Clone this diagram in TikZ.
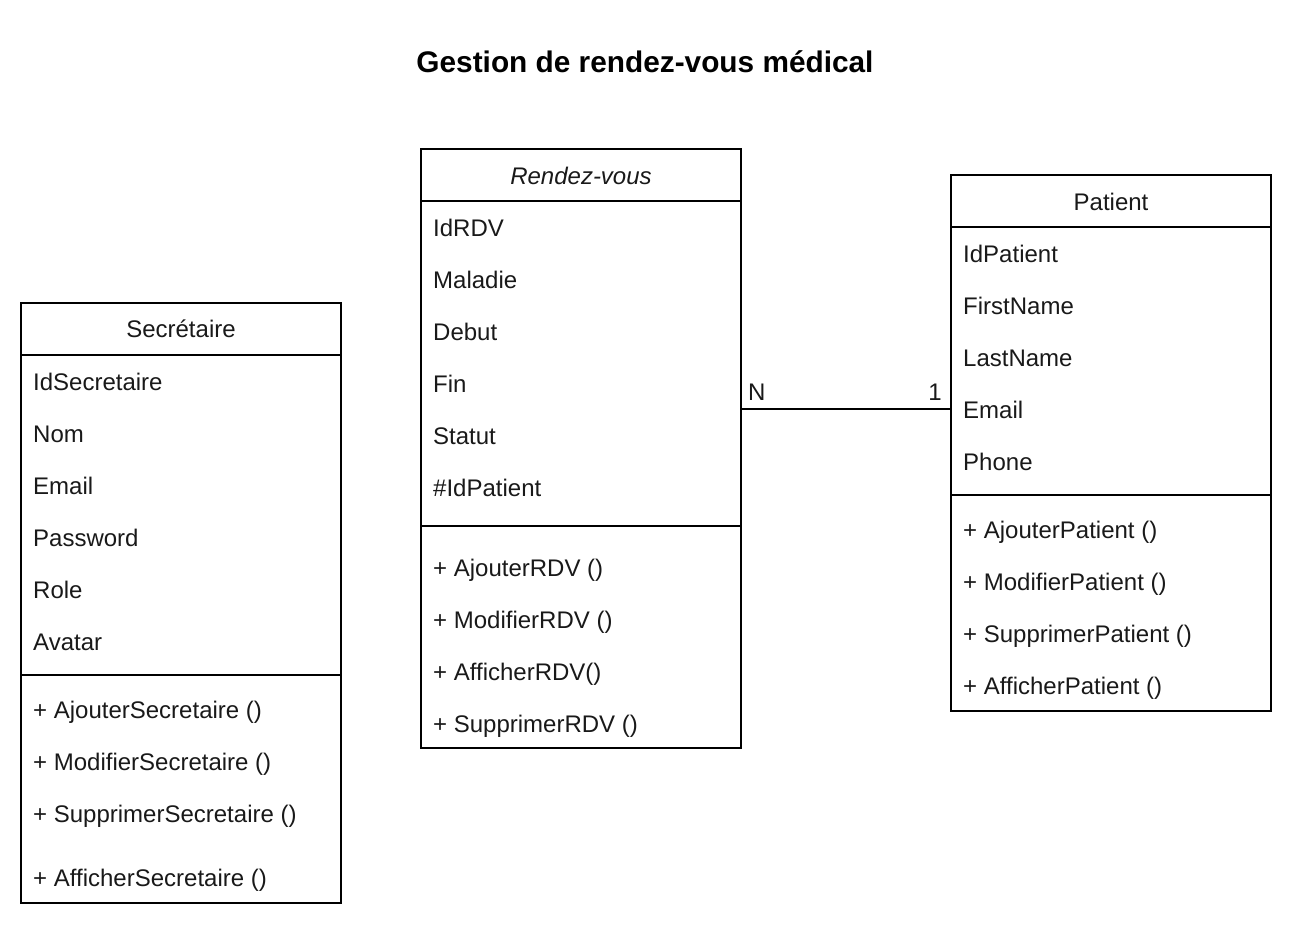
\documentclass[tikz,border=0pt]{standalone}
\usepackage{fontspec}
\setmainfont{Liberation Sans}
\begin{document}
\begin{tikzpicture}[x=1pt,y=-1pt,
  box/.style={draw=black,line width=2pt,rectangle,inner sep=0pt,anchor=north west},
  sep/.style={draw=black,line width=2pt},
  txt/.style={inner sep=0pt,anchor=west,text height=17.2pt,text depth=0pt,font=\fontsize{24}{28}\selectfont,text=black!90},
  hdr/.style={txt,anchor=center},
  conn/.style={draw=black,line width=2pt}]
\useasboundingbox (0,0) rectangle (1298,928);
\node[font=\bfseries\fontsize{29.8}{34}\selectfont,inner sep=0pt,text height=21.3pt,text depth=0pt] (title) at (645,62) {Gestion de rendez-vous médical};

% Secretaire
\node[box,minimum width=320pt,minimum height=600pt] (sec) at (20,302) {};
\draw[sep] (sec.west |- 0,355) -- (sec.east |- 0,355);
\draw[sep] (sec.west |- 0,675) -- (sec.east |- 0,675);
\node[hdr] (secH) at (181,329) {Secrétaire};
\node[txt] (s1) at (33,382) {IdSecretaire};
\node[txt] (s2) at (33,434) {Nom};
\node[txt] (s3) at (33,486) {Email};
\node[txt] (s4) at (33,538) {Password};
\node[txt] (s5) at (33,590) {Role};
\node[txt] (s6) at (33,642) {Avatar};
\node[txt] (s7) at (33,710) {+ AjouterSecretaire ()};
\node[txt] (s8) at (33,762) {+ ModifierSecretaire ()};
\node[txt] (s9) at (33,814) {+ SupprimerSecretaire ()};
\node[txt] (s10) at (33,878) {+ AfficherSecretaire ()};

% Rendez-vous
\node[box,minimum width=320pt,minimum height=599pt] (rdv) at (420,148) {};
\draw[sep] (rdv.west |- 0,201) -- (rdv.east |- 0,201);
\draw[sep] (rdv.west |- 0,526) -- (rdv.east |- 0,526);
\node[hdr,font=\itshape\fontsize{24}{28}\selectfont] (rdvH) at (581,176) {Rendez-vous};
\node[txt] (r1) at (433,228) {IdRDV};
\node[txt] (r2) at (433,280) {Maladie};
\node[txt] (r3) at (433,332) {Debut};
\node[txt] (r4) at (433,384) {Fin};
\node[txt] (r5) at (433,436) {Statut};
\node[txt] (r6) at (433,488) {\#IdPatient};
\node[txt] (r7) at (433,568) {+ AjouterRDV ()};
\node[txt] (r8) at (433,620) {+ ModifierRDV ()};
\node[txt] (r9) at (433,672) {+ AfficherRDV()};
\node[txt] (r10) at (433,724) {+ SupprimerRDV ()};

% Patient
\node[box,minimum width=320pt,minimum height=536pt] (pat) at (950,174) {};
\draw[sep] (pat.west |- 0,227) -- (pat.east |- 0,227);
\draw[sep] (pat.west |- 0,495) -- (pat.east |- 0,495);
\node[hdr] (patH) at (1111,202) {Patient};
\node[txt] (p1) at (963,254) {IdPatient};
\node[txt] (p2) at (963,306) {FirstName};
\node[txt] (p3) at (963,358) {LastName};
\node[txt] (p4) at (963,410) {Email};
\node[txt] (p5) at (963,462) {Phone};
\node[txt] (p6) at (963,530) {+ AjouterPatient ()};
\node[txt] (p7) at (963,582) {+ ModifierPatient ()};
\node[txt] (p8) at (963,634) {+ SupprimerPatient ()};
\node[txt] (p9) at (963,686) {+ AfficherPatient ()};

% connector
\draw[conn] (rdv.east |- 0,409) -- (pat.west |- 0,409);
\node[txt] (lN) at (748,392) {N};
\node[txt,anchor=east] (l1) at (942,392) {1};
\end{tikzpicture}
\end{document}
